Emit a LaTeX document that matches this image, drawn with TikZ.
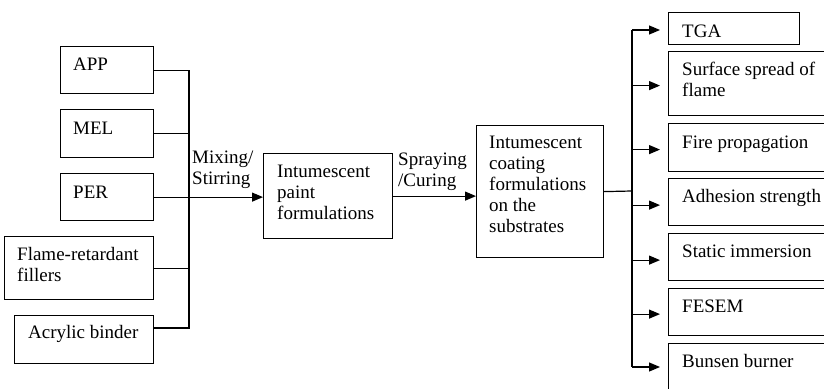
\documentclass[tikz,border=0pt]{standalone}
\usepackage{fontspec}
\setmainfont{Liberation Serif}
\usetikzlibrary{arrows.meta,calc}
\tikzset{
  boxst/.style={draw, line width=1.2pt, inner sep=0pt, anchor=north west},
  lbl/.style={anchor=base west, inner sep=0pt, font=\fontsize{19}{21}\selectfont},
  ln/.style={line width=1.2pt},
  arr/.style={line width=1.2pt, -{Triangle[length=11pt,width=9pt]}}
}
\newcommand\lines[1]{\begin{tabular}[t]{@{}l@{}}#1\end{tabular}}
\begin{document}
\begin{tikzpicture}[x=1pt,y=-1pt]
\useasboundingbox (0,0) rectangle (824,388);
\clip (0,0) rectangle (824,388);
% left boxes
\node[boxst, minimum width=93pt, minimum height=47pt] (app) at (60,46) {};
\node[lbl] (appt) at (73,70) {APP};
\node[boxst, minimum width=93pt, minimum height=48pt] (mel) at (60,109) {};
\node[lbl] (melt) at (73,134) {MEL};
\node[boxst, minimum width=93pt, minimum height=47pt] (per) at (60,173) {};
\node[lbl] (pert) at (73,198) {PER};
\node[boxst, minimum width=149pt, minimum height=63pt] (fl) at (4,236) {};
\node[lbl] (flt) at (17,260) {\lines{Flame-retardant\\fillers}};
\node[boxst, minimum width=139pt, minimum height=48pt] (acr) at (14,315) {};
\node[lbl] (acrt) at (28,338) {Acrylic binder};
% middle boxes
\node[boxst, minimum width=129pt, minimum height=85pt] (paint) at (263,153) {};
\node[lbl] (paintt) at (277,177) {\lines{Intumescent\\paint\\formulations}};
\node[boxst, minimum width=127pt, minimum height=132pt] (coat) at (476,125) {};
\node[lbl] (coatt) at (489,148) {\lines{Intumescent\\coating\\formulations\\on the\\substrates}};
% edge labels
\node[lbl] (mix) at (192,163) {\lines{Mixing/\\Stirring}};
\node[lbl] (spr) at (398,165) {\lines{Spraying\\/Curing}};
% right boxes
\node[boxst, minimum width=131pt, minimum height=32pt] (tga) at (668,12) {};
\node[lbl] (tgat) at (682,37) {TGA};
\node[boxst, minimum width=180pt, minimum height=64pt] (ssf) at (668,51) {};
\node[lbl] (ssft) at (682,75) {\lines{Surface spread of\\flame}};
\node[boxst, minimum width=180pt, minimum height=48pt] (fire) at (668,123) {};
\node[lbl] (firet) at (682,148) {Fire propagation};
\node[boxst, minimum width=180pt, minimum height=47pt] (adh) at (668,178) {};
\node[lbl] (adht) at (682,202) {Adhesion strength};
\node[boxst, minimum width=180pt, minimum height=47pt] (stat) at (668,233) {};
\node[lbl] (statt) at (682,257) {Static immersion};
\node[boxst, minimum width=180pt, minimum height=47pt] (fes) at (668,288) {};
\node[lbl] (fest) at (682,312) {FESEM};
\node[boxst, minimum width=180pt, minimum height=47pt] (bun) at (668,343) {};
\node[lbl] (bunt) at (682,367) {Bunsen burner};
% left bus
\coordinate (lb) at (189,328);
\draw[ln] (app.east) -| (lb) -- (lb -| acr.east);
\draw[ln] (mel.east) -- (mel.east -| lb);
\draw[ln] (fl.east) -- (fl.east -| lb);
\draw[arr] (per.east) -- (per.east -| paint.west);
\draw[arr] (paint.east) -- (paint.east -| coat.west);
% right bus
\coordinate (rb) at (632,191);
\coordinate (rt) at (632,30);
\coordinate (rbot) at (632,367);
\draw[ln] (coat.east) -- (rb);
\draw[ln] (rt) -- (rbot);
\draw[arr] (rt) -- ++(28,0);
\draw[arr] (rt |- ssf.west) ++(0,2) -- ++(28,0);
\draw[arr] (rt |- fire.west) ++(0,2) -- ++(28,0);
\draw[arr] (rt |- adh.west) ++(0,3) -- ++(28,0);
\draw[arr] (rt |- stat.west) ++(0,3) -- ++(28,0);
\draw[arr] (rt |- fes.west) ++(0,2) -- ++(28,0);
\draw[arr] (rbot) -- ++(28,0);
\end{tikzpicture}
\end{document}
